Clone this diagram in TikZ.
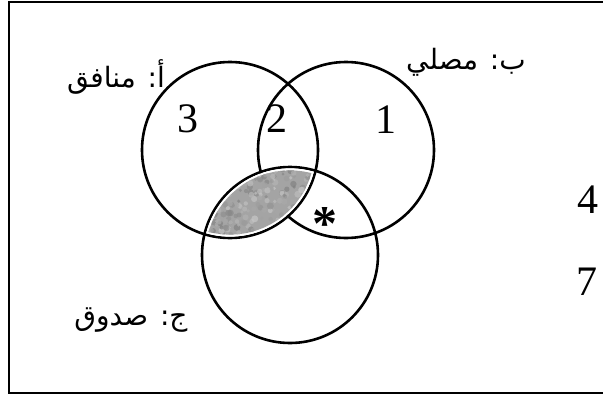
\documentclass[tikz,border=0pt]{standalone}
\usepackage{fontspec}
\setmainfont{Liberation Serif}
\newfontfamily\arabicfont[Script=Arabic]{DejaVu Sans}
\TeXXeTstate=1
\usepackage{tikz}
\definecolor{VennInk}{HTML}{000000}
\definecolor{VennShade}{HTML}{A4A4A4}
\definecolor{VennShadeDark}{HTML}{7E7E7E}
\definecolor{VennShadeLight}{HTML}{C8C8C8}

\begin{document}
\begin{tikzpicture}[x=1pt,y=-1pt]
        \useasboundingbox (0,0) rectangle (603,394);
        % open frame, right side runs off the page
        \draw[VennInk, line width=2pt] (603,2) -- (9,2) -- (9,393) -- (603,393);
        \coordinate (cA) at (230,150);
        \coordinate (cB) at (346,150);
        \coordinate (cC) at (290,255);
        \foreach \c in {cA,cB,cC} {
          \draw[VennInk, line width=2.6pt] (\c) circle (88pt);
        }
        % shaded lens A and C, drawn over B with a white rim
        \begin{scope}
          \clip (cA) circle (86.6pt);
          \clip (cC) circle (86.6pt);
          \fill[white] (cA) circle (88pt);
        \end{scope}
        \begin{scope}
          \clip (cA) circle (84.6pt);
          \clip (cC) circle (84.6pt);
          \fill[VennShade] (cA) circle (88pt);
          \pgfmathsetseed{7}
          \foreach \i in {1,...,260} {
            \pgfmathsetmacro{\px}{200+rnd*115}
            \pgfmathsetmacro{\py}{165+rnd*75}
            \pgfmathsetmacro{\pr}{1.5+rnd*2}
            \pgfmathsetmacro{\pk}{rnd*100}
            \fill[VennShadeDark!\pk!VennShadeLight, opacity=0.7] (\px,\py) circle (\pr pt);
          }
        \end{scope}
        \foreach \name/\x/\y/\txt in {num3/188/119/3,num2/277/119/2,num1/386/120/1,num4/588/200/4,num7/587/282/7} {
          \node[inner sep=0pt, text=VennInk, font=\fontsize{42pt}{48pt}\selectfont] (\name) at (\x,\y) {\txt};
        }
        \node[inner sep=0pt, text=VennInk, font=\fontsize{50pt}{56pt}\selectfont\bfseries] (star) at (325,224) {*};
        \node[inner sep=0pt, text=VennInk, font=\arabicfont\fontsize{28pt}{32pt}\selectfont] (labA) at (116,77) {\beginR أ: منافق\endR};
        \node[inner sep=0pt, text=VennInk, font=\arabicfont\fontsize{28pt}{32pt}\selectfont] (labB) at (466,62) {\beginR ب: مصلي\endR};
        \node[inner sep=0pt, text=VennInk, font=\arabicfont\fontsize{28pt}{32pt}\selectfont] (labC) at (131,320) {\beginR ج: صدوق\endR};
      \end{tikzpicture}
\end{document}
